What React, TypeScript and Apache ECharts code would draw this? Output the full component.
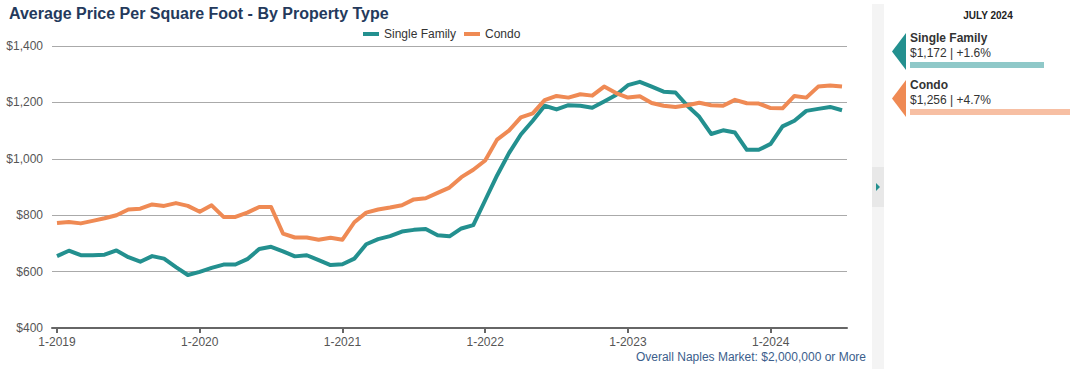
import React, { useEffect, useRef } from "react";
import * as echarts from "echarts";

const tickLabels = ["1-2019", "1-2020", "1-2021", "1-2022", "1-2023", "1-2024"];
const tickMonths = [0, 12, 24, 36, 48, 60];

// Jan 2019 .. Jul 2024 (67 months)
const singleFamily = [
  655, 674, 658, 658, 660, 675, 651, 635, 655, 646, 616, 588,
  599, 613, 625, 625, 644, 680, 688, 672, 654, 658, 641, 623,
  626, 646, 697, 715, 726, 742, 748, 751, 729, 725, 753, 765,
  853, 941, 1020, 1086, 1135, 1188, 1175, 1190, 1188, 1181, 1203, 1226,
  1261, 1273, 1256, 1238, 1235, 1188, 1149, 1088, 1101, 1093, 1032, 1032,
  1053, 1115, 1135, 1170, 1177, 1184, 1172,
];
const condo = [
  772, 776, 771, 780, 789, 800, 820, 823, 838, 833, 843, 833,
  812, 835, 794, 794, 809, 829, 829, 735, 721, 721, 713, 720,
  713, 775, 809, 820, 827, 835, 856, 860, 879, 898, 935, 961,
  994, 1068, 1100, 1147, 1161, 1208, 1223, 1217, 1229, 1224, 1256, 1233,
  1217, 1222, 1198, 1188, 1184, 1190, 1199, 1190, 1188, 1209, 1197, 1196,
  1180, 1179, 1223, 1217, 1256, 1260, 1256,
];

const seriesNames = ["Single Family", "Condo"];
const panelPeriod = "JULY 2024";
const panelChange = ["+1.6%", "+4.7%"];

const TEAL = "#23908f";
const ORANGE = "#ef8a54";
const FONT = "Arial, 'Liberation Sans', Helvetica, sans-serif";

const fmt = (v: number) => "$" + v.toLocaleString("en-US");

export default function App() {
  const ref = useRef<HTMLDivElement>(null);

  useEffect(() => {
    document.body.style.margin = "0";
    if (!ref.current) return;
    const chart = echarts.init(ref.current, null, { renderer: "svg" });
    const lastSF = singleFamily[singleFamily.length - 1];
    const lastC = condo[condo.length - 1];

    const panelBlock = (y0: number, color: string, barColor: string, name: string, value: number, change: string, barW: number) => [
      {
        type: "polygon",
        shape: { points: [[906, y0], [892, y0 + 18.5], [906, y0 + 37]] },
        style: { fill: color },
      },
      {
        type: "text",
        x: 910,
        y: y0 + 5,
        style: { text: name, font: `bold 12px ${FONT}`, fill: "#333", textVerticalAlign: "middle" },
      },
      {
        type: "text",
        x: 910,
        y: y0 + 20,
        style: { text: `${fmt(value)} | ${change}`, font: `12px ${FONT}`, fill: "#333", textVerticalAlign: "middle" },
      },
      {
        type: "rect",
        shape: { x: 910, y: y0 + 29, width: barW, height: 6 },
        style: { fill: barColor },
      },
    ];

    chart.setOption({
      animation: false,
      title: {
        text: "Average Price Per Square Foot - By Property Type",
        left: 4,
        top: 0,
        textStyle: { fontFamily: FONT, fontSize: 16, fontWeight: "bold", color: "#243a5c" },
      },
      legend: {
        data: seriesNames,
        left: 358,
        top: 23,
        icon: "rect",
        itemWidth: 16,
        itemHeight: 4,
        itemGap: 8,
        textStyle: { fontFamily: FONT, fontSize: 12, color: "#333" },
      },
      grid: { left: 52, right: 223, top: 46, bottom: 41, containLabel: false },
      xAxis: {
        type: "value",
        min: -0.42,
        max: 66.42,
        splitLine: { show: false },
        axisLine: { show: true, lineStyle: { color: "#666", width: 2 } },
        axisTick: { show: true, customValues: tickMonths, length: 5, lineStyle: { color: "#666", width: 2 } },
        axisLabel: {
          customValues: tickMonths,
          formatter: (v: number) => tickLabels[tickMonths.indexOf(Math.round(v))] ?? "",
          margin: 8,
          fontFamily: FONT,
          fontSize: 12,
          color: "#555",
        },
      },
      yAxis: {
        type: "value",
        min: 400,
        max: 1400,
        interval: 200,
        axisLine: { show: false },
        axisTick: { show: false },
        splitLine: { lineStyle: { color: "#aaa", width: 1 } },
        axisLabel: { formatter: (v: number) => fmt(v), margin: 9, fontFamily: FONT, fontSize: 12, color: "#555" },
      },
      series: [
        {
          name: seriesNames[0],
          type: "line",
          data: singleFamily.map((v, i) => [i, v]),
          showSymbol: false,
          itemStyle: { color: TEAL },
          lineStyle: { color: TEAL, width: 4, join: "round" },
        },
        {
          name: seriesNames[1],
          type: "line",
          data: condo.map((v, i) => [i, v]),
          showSymbol: false,
          itemStyle: { color: ORANGE },
          lineStyle: { color: ORANGE, width: 4, join: "round" },
        },
      ],
      graphic: [
        {
          type: "text",
          right: 1070 - 866,
          top: 351,
          style: { text: "Overall Naples Market: $2,000,000 or More", font: `12px ${FONT}`, fill: "#3b5e8c" },
        },
        { type: "rect", shape: { x: 872, y: 4, width: 12, height: 365 }, style: { fill: "#f4f4f4" } },
        { type: "rect", shape: { x: 872, y: 167, width: 12, height: 40 }, style: { fill: "#e8e8e8" } },
        { type: "polygon", shape: { points: [[876, 183], [880, 187], [876, 191]] }, style: { fill: TEAL } },
        {
          type: "text",
          x: 988,
          y: 15,
          style: { text: panelPeriod, font: `bold 10px ${FONT}`, fill: "#222", textAlign: "center", textVerticalAlign: "middle" },
        },
        ...panelBlock(33, TEAL, "#8fc8c8", seriesNames[0], lastSF, panelChange[0], 134),
        ...panelBlock(80, ORANGE, "#f7bfa3", seriesNames[1], lastC, panelChange[1], 160),
      ],
    });
    return () => chart.dispose();
  }, []);

  return <div ref={ref} style={{ width: 1070, height: 369 }} />;
}
